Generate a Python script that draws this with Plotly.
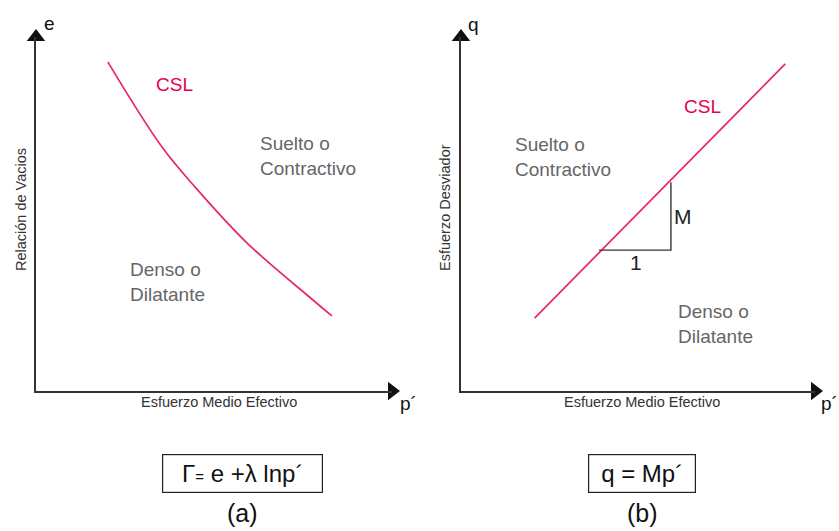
import plotly.graph_objects as go

# ---------------- data (schematic) ----------------
# panel (a): critical state line in e - p' space
csl_a_p = [2.02, 3.54, 4.47, 5.93, 7.78, 8.31]
csl_a_e = [9.29, 6.89, 5.76, 4.18, 2.57, 2.12]

# panel (b): critical state line in q - p' space
csl_b_p = [2.08, 9.16]
csl_b_q = [2.06, 9.24]

# slope triangle (1 : M)
tri_p = [3.90, 5.93, 5.93]
tri_q = [3.98, 3.98, 5.90]

AX_MAX = 10  # axis length (arrow position) in data units

FONT = "Liberation Sans, Arial, sans-serif"
PINK = "#e8266a"
CRIMSON = "#e6004a"
GREY = "#666666"
DARK = "#222222"

W, H = 839, 531


def px_x(v):
    return v / W


def px_y(v):
    return 1 - v / H


fig = go.Figure()

# CSL curves
fig.add_trace(go.Scatter(x=csl_a_p, y=csl_a_e, mode="lines",
                         line=dict(color=PINK, width=1.7, shape="spline", smoothing=1.0),
                         xaxis="x", yaxis="y", hoverinfo="skip"))
fig.add_trace(go.Scatter(x=csl_b_p, y=csl_b_q, mode="lines",
                         line=dict(color=PINK, width=1.7),
                         xaxis="x2", yaxis="y2", hoverinfo="skip"))
# slope triangle
fig.add_trace(go.Scatter(x=tri_p, y=tri_q, mode="lines",
                         line=dict(color="#333333", width=1.4),
                         xaxis="x2", yaxis="y2", hoverinfo="skip"))

# arrow heads on both axes of each panel
for xa, ya in (("x", "y"), ("x2", "y2")):
    fig.add_trace(go.Scatter(x=[AX_MAX], y=[0], mode="markers", cliponaxis=False,
                             marker=dict(symbol="triangle-right", size=16, color="#111111",
                                         line=dict(width=0)),
                             xaxis=xa, yaxis=ya, hoverinfo="skip"))
    fig.add_trace(go.Scatter(x=[0], y=[AX_MAX], mode="markers", cliponaxis=False,
                             marker=dict(symbol="triangle-up", size=16, color="#111111",
                                         line=dict(width=0)),
                             xaxis=xa, yaxis=ya, hoverinfo="skip"))

ydom = [px_y(391), px_y(37)]
axis_common = dict(range=[0, AX_MAX], showline=True, linecolor="#333333", linewidth=1.5,
                   showticklabels=False, ticks="", showgrid=False, zeroline=False,
                   fixedrange=True)

fig.update_layout(
    width=W, height=H,
    margin=dict(l=0, r=0, t=0, b=0),
    paper_bgcolor="white", plot_bgcolor="white",
    showlegend=False,
    font=dict(family=FONT, color=DARK),
    xaxis=dict(domain=[px_x(36), px_x(392)], anchor="y", **axis_common),
    yaxis=dict(domain=ydom, anchor="x", **axis_common),
    xaxis2=dict(domain=[px_x(461), px_x(815)], anchor="y2", **axis_common),
    yaxis2=dict(domain=ydom, anchor="x2", **axis_common),
)

ann = []


def txt(text, x, y, xref, yref, size, color=DARK, xanchor="center", yanchor="middle",
        align="center", **kw):
    ann.append(dict(text=text, x=x, y=y, xref=xref, yref=yref, showarrow=False,
                    xanchor=xanchor, yanchor=yanchor, align=align,
                    font=dict(family=FONT, size=size, color=color), **kw))


def ptxt(text, px, py, size, color=DARK, **kw):
    txt(text, px_x(px), px_y(py), "paper", "paper", size, color, **kw)


# ---- panel (a) labels
txt("CSL", 3.90, 8.67, "x", "y", 19, CRIMSON)
txt("Suelto o<br>Contractivo", 6.24, 6.65, "x", "y", 19, GREY, xanchor="left", align="left")
txt("Denso o<br>Dilatante", 2.58, 3.09, "x", "y", 19, GREY, xanchor="left", align="left")
ptxt("e", 49, 23, 19, "#111111")
ptxt("p´", 408, 403, 19, "#111111")
ptxt("Esfuerzo Medio Efectivo", 219, 402, 14.5, "#333333")
ptxt("Relación de Vacios", 21, 210, 14.5, "#333333", textangle=-90)

# ---- panel (b) labels
txt("CSL", 6.83, 8.05, "x2", "y2", 19, CRIMSON)
txt("Suelto o<br>Contractivo", 1.46, 6.60, "x2", "y2", 19, GREY, xanchor="left", align="left")
txt("Denso o<br>Dilatante", 6.07, 1.89, "x2", "y2", 19, GREY, xanchor="left", align="left")
ptxt("q", 473, 24, 19, "#111111")
ptxt("p´", 829, 403, 19, "#111111")
ptxt("Esfuerzo Medio Efectivo", 642, 402, 14.5, "#333333")
ptxt("Esfuerzo Desviador", 445, 208, 14.5, "#333333", textangle=-90)
txt("M", 6.26, 4.94, "x2", "y2", 21, DARK)
txt("1", 4.94, 3.64, "x2", "y2", 21, DARK)

# ---- equations and captions
ptxt("Γ<span style='font-size:15px'>=</span> e +λ lnp´", 242.5, 473.5, 24,
     "#111111", bordercolor="#222222", borderwidth=1.2, borderpad=0, width=159, height=37)
ptxt("q = Mp´", 642, 473.5, 24,
     "#111111", bordercolor="#222222", borderwidth=1.2, borderpad=0, width=106, height=37)
ptxt("(a)", 242, 513, 25, "#111111")
ptxt("(b)", 642, 513, 25, "#111111")

fig.update_layout(annotations=ann)

fig.write_html("out.html")
